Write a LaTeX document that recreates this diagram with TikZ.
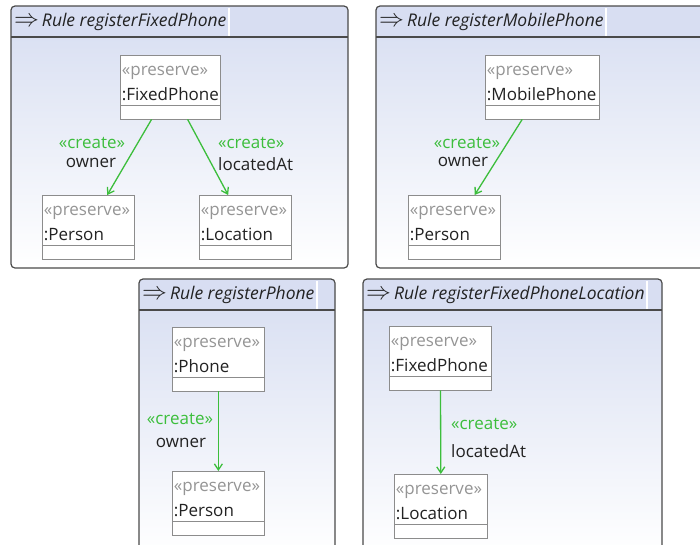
\documentclass[tikz,border=0pt]{standalone}
\usepackage{fontspec}
\setmainfont{Open Sans}
\usetikzlibrary{arrows.meta, positioning, calc, shapes.multipart}

\definecolor{framegray}{HTML}{4A4A4A}
\definecolor{titleblue}{HTML}{D8DEF2}
\definecolor{panelblue}{HTML}{D6DDF1}
\definecolor{boxgray}{HTML}{8C8C8C}
\definecolor{stereogray}{HTML}{959595}
\definecolor{creategreen}{HTML}{3CBE3C}
\definecolor{textdark}{HTML}{222222}

\begin{document}
\begin{tikzpicture}[x=1pt, y=-1pt, >={Straight Barb[length=6pt,width=8pt]},
    font=\fontsize{17}{25}\selectfont, text=textdark,
    classbox/.style={rectangle split, rectangle split parts=2, draw=boxgray,
        fill=white, line width=0.8pt, text width=#1, align=left,
        inner xsep=1.5pt, inner ysep=1pt, anchor=north west},
    ruletitle/.style={anchor=west, inner sep=1pt, font=\fontsize{17.5}{20}\selectfont},
    createedge/.style={->, creategreen, line width=1.3pt},
    createlbl/.style={text=creategreen, inner sep=0pt},
    rolelbl/.style={inner sep=0pt}]
    \useasboundingbox (0,0) rectangle (700,544);
    \clip (0,0) rectangle (700,544);

    % --- rule frames ---
    \foreach \xa/\ya/\xb/\yb/\tn/\rname in {11/6/348/268/titleA/registerFixedPhone,
            376/6/712/268/titleB/registerMobilePhone,
            139/279/335/556/titleC/registerPhone,
            363/279/662/556/titleD/registerFixedPhoneLocation} {
        \shade[top color=panelblue, bottom color=white, rounded corners=4pt]
            (\xa,\ya) rectangle (\xb,\yb);
        \fill[titleblue, rounded corners=4pt] (\xa,\ya) rectangle (\xb,\ya+31);
        \node[ruletitle] (\tn) at (\xa+2,\ya+16)
            {{\fontsize{23}{23}\selectfont$\Rightarrow$}\,\textit{Rule \rname}};
        \fill[white] ($(\tn.east)+(0,-14)$) rectangle ($(\tn.east)+(2,14)$);
        \draw[framegray, line width=1.2pt] (\xa,\ya+31) -- (\xb,\ya+31);
        \draw[framegray, line width=1.2pt, rounded corners=4pt]
            (\xa,\ya) rectangle (\xb,\yb);
    }

    % --- registerFixedPhone ---
    \node[classbox=97] (phoneA) at (120,55)
        {\rule{0pt}{19pt}{\color{stereogray}«preserve»}\\:FixedPhone\rule[-3pt]{0pt}{3pt}
         \nodepart{two}\rule{0pt}{11pt}};
    \node[classbox=89] (personA) at (42,195)
        {\rule{0pt}{19pt}{\color{stereogray}«preserve»}\\:Person\rule[-3pt]{0pt}{3pt}
         \nodepart{two}\rule{0pt}{11pt}};
    \node[classbox=89] (locA) at (199,195)
        {\rule{0pt}{19pt}{\color{stereogray}«preserve»}\\:Location\rule[-3pt]{0pt}{3pt}
         \nodepart{two}\rule{0pt}{11pt}};
    \draw[createedge] (phoneA) -- (personA);
    \draw[createedge] (phoneA) -- (locA);
    \node[createlbl] (crA) at (92,143) {«create»};
    \node[rolelbl] (ownA) at (91,163) {owner};
    \node[createlbl, anchor=west] (crA2) at (218,143) {«create»};
    \node[rolelbl, anchor=west] (locAtA) at (218,164) {locatedAt};

    % --- registerMobilePhone ---
    \node[classbox=111] (phoneB) at (485,55)
        {\rule{0pt}{19pt}{\color{stereogray}«preserve»}\\:MobilePhone\rule[-3pt]{0pt}{3pt}
         \nodepart{two}\rule{0pt}{11pt}};
    \node[classbox=89] (personB) at (408,195)
        {\rule{0pt}{19pt}{\color{stereogray}«preserve»}\\:Person\rule[-3pt]{0pt}{3pt}
         \nodepart{two}\rule{0pt}{11pt}};
    \draw[createedge] (phoneB) -- (personB);
    \node[createlbl] (crB) at (467,143) {«create»};
    \node[rolelbl] (ownB) at (463,162) {owner};

    % --- registerPhone ---
    \node[classbox=89] (phoneC) at (172,327)
        {\rule{0pt}{19pt}{\color{stereogray}«preserve»}\\:Phone\rule[-3pt]{0pt}{3pt}
         \nodepart{two}\rule{0pt}{11pt}};
    \node[classbox=89] (personC) at (172,471)
        {\rule{0pt}{19pt}{\color{stereogray}«preserve»}\\:Person\rule[-3pt]{0pt}{3pt}
         \nodepart{two}\rule{0pt}{11pt}};
    \draw[createedge] (phoneC) -- (personC);
    \node[createlbl] (crC) at (180,419) {«create»};
    \node[rolelbl] (ownC) at (181,443) {owner};

    % --- registerFixedPhoneLocation ---
    \node[classbox=99] (phoneD) at (389,326)
        {\rule{0pt}{19pt}{\color{stereogray}«preserve»}\\:FixedPhone\rule[-3pt]{0pt}{3pt}
         \nodepart{two}\rule{0pt}{11pt}};
    \node[classbox=90] (locD) at (394,474)
        {\rule{0pt}{19pt}{\color{stereogray}«preserve»}\\:Location\rule[-3pt]{0pt}{3pt}
         \nodepart{two}\rule{0pt}{11pt}};
    \draw[createedge] (phoneD) -- (locD);
    \node[createlbl, anchor=west] (crD) at (451,424) {«create»};
    \node[rolelbl, anchor=west] (locAtD) at (451,451) {locatedAt};
\end{tikzpicture}
\end{document}
